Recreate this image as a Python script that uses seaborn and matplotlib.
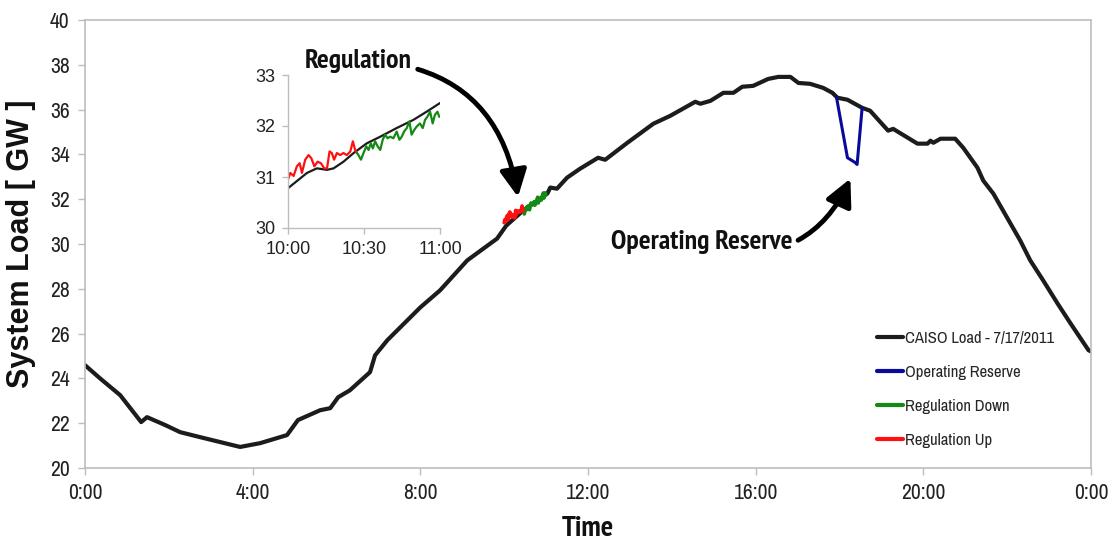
import numpy as np
import pandas as pd
import matplotlib
matplotlib.use("Agg")
import matplotlib.pyplot as plt
from matplotlib import font_manager
import seaborn as sns

# ---------------- data ----------------
hours = [0, 0.36, 0.84, 1.34, 1.48, 1.91, 2.27, 2.74, 3.22, 3.70, 4.18, 4.82, 5.08,
         5.61, 5.85, 6.04, 6.32, 6.80, 6.92, 7.21, 8.00, 8.47, 9.12, 9.83, 10.05,
         10.45, 11.03, 11.10, 11.26, 11.50, 11.81, 12.24, 12.41, 12.94, 13.56, 13.96,
         14.56, 14.68, 14.92, 15.23, 15.47, 15.68, 15.94, 16.30, 16.54, 16.83, 17.02,
         17.30, 17.61, 17.83, 17.95, 18.19, 18.54, 18.73, 19.16, 19.28, 19.86, 20.10,
         20.17, 20.24, 20.41, 20.76, 20.95, 21.29, 21.43, 21.67, 22.08, 22.31, 22.55,
         22.86, 23.20, 23.51, 23.94, 24.00]
load = [24.59, 24.00, 23.25, 22.05, 22.27, 21.92, 21.60, 21.38, 21.16, 20.94, 21.11, 21.47, 22.14,
        22.58, 22.67, 23.16, 23.47, 24.28, 25.03, 25.70, 27.17, 27.93, 29.27, 30.24, 30.82,
        31.49, 32.25, 32.52, 32.47, 32.96, 33.36, 33.85, 33.76, 34.52, 35.37, 35.72,
        36.35, 36.26, 36.39, 36.75, 36.75, 37.02, 37.06, 37.37, 37.46, 37.46, 37.19,
        37.15, 36.97, 36.75, 36.53, 36.44, 36.08, 35.95, 35.06, 35.14, 34.48, 34.48,
        34.61, 34.52, 34.70, 34.70, 34.30, 33.41, 32.83, 32.25, 30.91, 30.16, 29.27,
        28.37, 27.35, 26.46, 25.26, 25.20]

or_hours = [17.93, 18.19, 18.38, 18.42, 18.54]
or_load = [36.53, 33.85, 33.63, 33.55, 36.08]

reg_up_min = [0, 0.9, 2.2, 3.5, 4.6, 5.5, 6.8, 8.1, 9.2, 10.4, 11.7, 13.0, 14.3, 15.4,
              16.4, 17.3, 18.2, 19.3, 20.6, 21.9, 23.2, 24.6, 25.6, 26.5, 27.2]
reg_up = [30.95, 31.08, 31.02, 31.21, 31.27, 31.08, 31.34, 31.43, 31.37, 31.21, 31.30,
          31.27, 31.17, 31.17, 31.50, 31.47, 31.34, 31.47, 31.43, 31.47, 31.43, 31.50,
          31.70, 31.53, 31.47]
reg_dn_min = [27.2, 27.8, 28.8, 29.8, 30.9, 31.8, 32.7, 33.5, 34.4, 35.4, 36.4, 37.4,
              38.3, 39.3, 40.3, 41.6, 42.9, 44.0, 44.9, 45.8, 46.9, 47.9, 48.8, 49.8,
              50.8, 52.1, 53.2, 54.1, 55.0, 56.1, 57.1, 58.0, 59.0, 59.7]
reg_dn = [31.47, 31.43, 31.34, 31.47, 31.60, 31.53, 31.66, 31.56, 31.70, 31.60, 31.53,
          31.73, 31.83, 31.76, 31.79, 31.76, 31.89, 31.73, 31.79, 31.89, 31.96, 32.09,
          31.83, 31.92, 31.99, 32.05, 31.96, 32.12, 32.18, 32.28, 32.05, 32.22, 32.28,
          32.18]

inset_min = [0, 7.5, 11.4, 15.4, 18.0, 21.9, 25.9, 31.1, 36.4, 42.9, 49.5, 54.7, 60]
inset_load = [30.78, 31.08, 31.17, 31.14, 31.17, 31.30, 31.47, 31.66, 31.79, 31.96,
              32.12, 32.28, 32.45]

x_ticks = [0, 4, 8, 12, 16, 20, 24]
x_labels = ["0:00", "4:00", "8:00", "12:00", "16:00", "20:00", "0:00"]
y_ticks = [20, 22, 24, 26, 28, 30, 32, 34, 36, 38, 40]
inset_xticks = [0, 30, 60]
inset_xlabels = ["10:00", "10:30", "11:00"]
inset_yticks = [30, 31, 32, 33]

legend_labels = ["CAISO Load - 7/17/2011", "Operating Reserve", "Regulation Down", "Regulation Up"]

# ---------------- style ----------------
sns.set_theme(style="white")
fl = font_manager.fontManager.ttflist
names = {f.name for f in fl}
NARROW = "Liberation Sans"
for cand in ["Liberation Sans Narrow", "Arial Narrow", "Archivo Narrow", "Roboto Condensed",
             "PT Sans Narrow", "Fira Sans Condensed", "IBM Plex Sans Condensed"]:
    if cand in names:
        NARROW = cand
        break


def has_bold(name):
    for f in fl:
        if f.name == name:
            w = f.weight
            try:
                w = int(w)
            except (TypeError, ValueError):
                w = 700 if str(w).lower() == "bold" else 400
            if w >= 700:
                return True
    return False


BOLD_NARROW = "Liberation Sans"
for cand in ["Liberation Sans Narrow", "Arial Narrow", "PT Sans Narrow", "Roboto Condensed",
             "Archivo Narrow", "Fira Sans Condensed", "IBM Plex Sans Condensed",
             "Open Sans Condensed"]:
    if cand in names and has_bold(cand):
        BOLD_NARROW = cand
        break

plt.rcParams["font.family"] = ["Liberation Sans", "DejaVu Sans"]

C_BLACK = "#1c1c1c"
C_BLUE = "#0a0a9a"
C_GREEN = "#138a13"
C_RED = "#ff1010"
C_SPINE = "#bdbdbd"

fig = plt.figure(figsize=(11.13, 5.44), dpi=100)
ax = fig.add_axes([85 / 1113, 1 - 468 / 544, (1091 - 85) / 1113, (468 - 20) / 544])

main_df = pd.DataFrame({"hour": hours, "load": load})
or_df = pd.DataFrame({"hour": or_hours, "load": or_load})
up_df = pd.DataFrame({"hour": [10 + m / 60 for m in reg_up_min], "load": reg_up})
dn_df = pd.DataFrame({"hour": [10 + m / 60 for m in reg_dn_min], "load": reg_dn})

sns.lineplot(data=main_df, x="hour", y="load", ax=ax, color=C_BLACK, lw=3.0,
             label=legend_labels[0], sort=False)
sns.lineplot(data=or_df, x="hour", y="load", ax=ax, color=C_BLUE, lw=2.2,
             label=legend_labels[1], sort=False)
sns.lineplot(data=dn_df, x="hour", y="load", ax=ax, color=C_GREEN, lw=2.6,
             label=legend_labels[2], sort=False)
sns.lineplot(data=up_df, x="hour", y="load", ax=ax, color=C_RED, lw=2.6,
             label=legend_labels[3], sort=False)

ax.set_xlim(0, 24)
ax.set_ylim(20, 40)
ax.set_xticks(x_ticks)
ax.set_xticklabels(x_labels)
ax.set_yticks(y_ticks)
for lab in ax.get_xticklabels() + ax.get_yticklabels():
    lab.set_fontfamily(NARROW)
    lab.set_fontsize(15.5)
    lab.set_color("#222222")
ax.tick_params(axis="both", direction="out", length=5, width=1, color=C_SPINE,
               bottom=True, left=True, pad=6)
for s in ax.spines.values():
    s.set_color(C_SPINE)
    s.set_linewidth(1.2)

ax.set_xlabel("Time", fontsize=21, fontweight="bold", family=BOLD_NARROW, color="#111111", labelpad=9)
ax.set_ylabel("System Load [ GW ]", fontsize=22, fontweight="bold", color="#111111", labelpad=10)

leg = ax.legend(loc="upper left", bbox_to_anchor=(870 / 1113, 1 - 324 / 544),
                bbox_transform=fig.transFigure, frameon=False,
                prop={"family": NARROW, "size": 12}, handlelength=1.6,
                handletextpad=0.1, labelspacing=1.15, borderaxespad=0)
for line in leg.get_lines():
    line.set_linewidth(3)

# annotations
ax.annotate("Regulation", xy=(10.33, 32.1), xytext=(6.52, 38.17),
            fontsize=20, fontweight="bold", family=BOLD_NARROW, color="#111111",
            ha="center", va="center", annotation_clip=False,
            arrowprops=dict(arrowstyle="-|>,head_length=0.9,head_width=0.45",
                            connectionstyle="arc3,rad=-0.42", lw=3.5,
                            color="black", mutation_scale=18, shrinkA=2, shrinkB=0))
ax.annotate("Operating Reserve", xy=(18.26, 32.92), xytext=(14.71, 30.07),
            fontsize=20, fontweight="bold", family=BOLD_NARROW, color="#111111",
            ha="center", va="center", annotation_clip=False,
            arrowprops=dict(arrowstyle="-|>,head_length=0.9,head_width=0.45",
                            connectionstyle="arc3,rad=0.45", lw=3.5,
                            color="black", mutation_scale=18, shrinkA=2, shrinkB=0))

# ---------------- inset ----------------
ins = fig.add_axes([288 / 1113, 1 - 228 / 544, 152 / 1113, 153 / 544])
ins_black = pd.DataFrame({"m": inset_min, "load": inset_load})
ins_up = pd.DataFrame({"m": reg_up_min, "load": reg_up})
ins_dn = pd.DataFrame({"m": reg_dn_min, "load": reg_dn})
sns.lineplot(data=ins_black, x="m", y="load", ax=ins, color=C_BLACK, lw=1.6, sort=False)
sns.lineplot(data=ins_up, x="m", y="load", ax=ins, color=C_RED, lw=1.6, sort=False)
sns.lineplot(data=ins_dn, x="m", y="load", ax=ins, color=C_GREEN, lw=1.6, sort=False)
ins.set_xlim(0, 60)
ins.set_ylim(30, 33)
ins.set_xticks(inset_xticks)
ins.set_xticklabels(inset_xlabels)
ins.set_yticks(inset_yticks)
ins.set_xlabel("")
ins.set_ylabel("")
ins.patch.set_alpha(0)
for s in ["top", "right"]:
    ins.spines[s].set_visible(False)
for s in ["left", "bottom"]:
    ins.spines[s].set_color(C_SPINE)
    ins.spines[s].set_linewidth(1.0)
ins.tick_params(axis="both", direction="out", length=4, width=1, color=C_SPINE,
                bottom=True, left=True, labelsize=13, labelcolor="#222222", pad=5)

fig.savefig("out.png", dpi=100)
